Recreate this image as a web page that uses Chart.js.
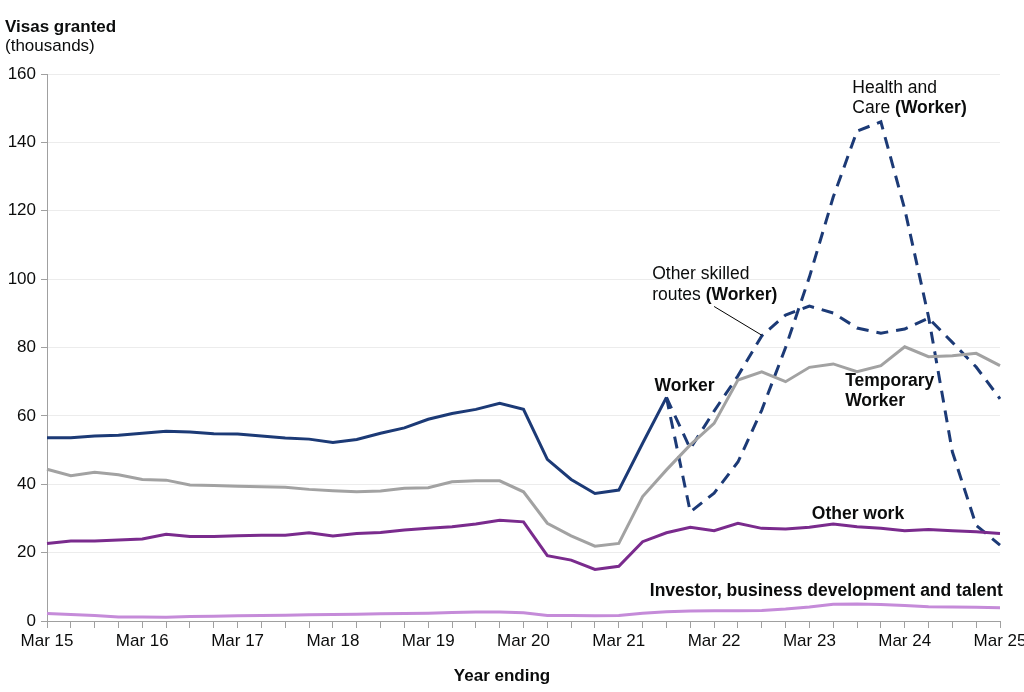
<!DOCTYPE html>
<html>
<head>
<meta charset="utf-8">
<script src="https://cdn.jsdelivr.net/npm/chart.js@4.4.1/dist/chart.umd.min.js"></script>
<style>
  html, body { margin: 0; padding: 0; background: #ffffff; }
</style>
</head>
<body>
<canvas id="myChart" width="1024" height="692"></canvas>
<script>
// year ending, quarterly
const quarters = [
  "Mar 15", "Jun 15", "Sep 15", "Dec 15",
  "Mar 16", "Jun 16", "Sep 16", "Dec 16",
  "Mar 17", "Jun 17", "Sep 17", "Dec 17",
  "Mar 18", "Jun 18", "Sep 18", "Dec 18",
  "Mar 19", "Jun 19", "Sep 19", "Dec 19",
  "Mar 20", "Jun 20", "Sep 20", "Dec 20",
  "Mar 21", "Jun 21", "Sep 21", "Dec 21",
  "Mar 22", "Jun 22", "Sep 22", "Dec 22",
  "Mar 23", "Jun 23", "Sep 23", "Dec 23",
  "Mar 24", "Jun 24", "Sep 24", "Dec 24",
  "Mar 25"
];

// thousands of visas granted
const worker = [
  53.6, 53.6, 54.1, 54.3, 54.9, 55.5, 55.3, 54.8, 54.7, 54.1, 53.5, 53.2,
  52.2, 53.1, 54.9, 56.5, 59.0, 60.7, 61.9, 63.7, 61.9, 47.3, 41.4, 37.3,
  38.3, 52.0, 65.4
];
const healthCare = [
  null, null, null, null, null, null, null, null, null, null, null, null,
  null, null, null, null, null, null, null, null, null, null, null, null,
  null, null, 65.4, 31.9, 37.4, 46.5, 61.7, 80.0, 100.6, 124.0, 143.3, 146.0,
  120.5, 89.0, 49.5, 28.0, 22.2
];
const otherSkilled = [
  null, null, null, null, null, null, null, null, null, null, null, null,
  null, null, null, null, null, null, null, null, null, null, null, null,
  null, null, 65.4, 50.4, 61.4, 71.7, 83.4, 89.5, 92.1, 90.1, 85.7, 84.2,
  85.4, 88.6, 81.5, 74.3, 65.0
];
const temporaryWorker = [
  44.4, 42.5, 43.5, 42.8, 41.4, 41.2, 39.8, 39.6, 39.4, 39.3, 39.1, 38.5,
  38.1, 37.8, 38.0, 38.8, 39.0, 40.7, 41.0, 41.0, 37.8, 28.6, 24.9, 21.9,
  22.7, 36.4, 44.2, 51.5, 57.8, 70.5, 72.9, 70.0, 74.2, 75.2, 72.9, 74.7,
  80.2, 77.3, 77.6, 78.3, 74.7
];
const otherWork = [
  22.7, 23.4, 23.4, 23.7, 24.0, 25.4, 24.7, 24.7, 24.9, 25.1, 25.1, 25.8,
  24.9, 25.6, 25.9, 26.6, 27.1, 27.6, 28.4, 29.5, 29.0, 19.1, 17.8, 15.1,
  16.0, 23.2, 25.8, 27.4, 26.4, 28.6, 27.1, 26.9, 27.4, 28.4, 27.6, 27.1,
  26.4, 26.8, 26.4, 26.1, 25.6
];
const investor = [
  2.2, 1.9, 1.6, 1.2, 1.2, 1.1, 1.3, 1.4, 1.5, 1.6, 1.7, 1.8,
  1.9, 2.0, 2.1, 2.2, 2.3, 2.5, 2.6, 2.6, 2.4, 1.6, 1.6, 1.5,
  1.6, 2.3, 2.7, 2.9, 3.0, 3.0, 3.1, 3.5, 4.1, 4.9, 5.0, 4.8,
  4.5, 4.2, 4.1, 4.0, 3.9
];

const yTicks = [0, 20, 40, 60, 80, 100, 120, 140, 160];

const navy = "#1c3a76";
const FONT = "'Liberation Sans', Arial, sans-serif";
const FS = 17;
const LFS = 17.5; // line labels

// line labels, anchored in data space: [quarter index, value, pieces]
const lineLabels = [
  { i: 33.8, v: 155.9, parts: [["Health and", false]] },
  { i: 33.8, v: 150.0, parts: [["Care ", false], ["(Worker)", true]] },
  { i: 25.4, v: 101.4, parts: [["Other skilled", false]] },
  { i: 25.4, v: 95.2, parts: [["routes ", false], ["(Worker)", true]] },
  { i: 25.5, v: 68.7, parts: [["Worker", true]] },
  { i: 33.5, v: 70.2, parts: [["Temporary", true]] },
  { i: 33.5, v: 64.3, parts: [["Worker", true]] },
  { i: 32.1, v: 31.3, parts: [["Other work", true]] },
  { i: 25.3, v: 8.8, parts: [["Investor, business development and talent", true]] }
];

const labelPlugin = {
  id: "labels",
  afterDraw(chart) {
    const ctx = chart.ctx;
    const x = chart.scales.x, y = chart.scales.y;
    ctx.save();
    ctx.fillStyle = "#0b0c0c";
    ctx.textBaseline = "middle";
    ctx.textAlign = "left";

    // axis headings
    ctx.font = "bold " + FS + "px " + FONT;
    ctx.fillText("Visas granted", 5, 27);
    ctx.font = FS + "px " + FONT;
    ctx.fillText("(thousands)", 5, 46);
    ctx.font = "bold " + FS + "px " + FONT;
    ctx.textAlign = "center";
    ctx.fillText("Year ending", 502, 676);
    ctx.textAlign = "left";

    lineLabels.forEach(l => {
      let px = x.getPixelForValue(l.i);
      const py = y.getPixelForValue(l.v);
      l.parts.forEach(p => {
        ctx.font = (p[1] ? "bold " : "") + LFS + "px " + FONT;
        ctx.fillText(p[0], px, py);
        px += ctx.measureText(p[0]).width;
      });
    });

    // leader line for other skilled routes
    ctx.strokeStyle = "#000000";
    ctx.lineWidth = 1;
    ctx.beginPath();
    ctx.moveTo(x.getPixelForValue(28.0), y.getPixelForValue(92.0));
    ctx.lineTo(x.getPixelForValue(30.0), y.getPixelForValue(83.6));
    ctx.stroke();
    ctx.restore();
  }
};

const solid = (data, color) => ({
  data: data,
  borderColor: color,
  backgroundColor: color,
  borderWidth: 3,
  pointRadius: 0,
  tension: 0,
  fill: false
});
const dashed = (data) => ({
  data: data,
  borderColor: navy,
  backgroundColor: navy,
  borderWidth: 3,
  borderDash: [12, 8],
  pointRadius: 0,
  tension: 0,
  fill: false,
  spanGaps: false
});

new Chart(document.getElementById("myChart").getContext("2d"), {
  type: "line",
  data: {
    labels: quarters,
    datasets: [
      solid(investor, "#c58bd9"),
      solid(otherWork, "#7a2b8d"),
      solid(temporaryWorker, "#a2a2a2"),
      dashed(otherSkilled),
      dashed(healthCare),
      solid(worker, navy)
    ]
  },
  options: {
    responsive: false,
    animation: false,
    layout: { padding: { top: 74, left: 0, right: 24, bottom: 0 } },
    plugins: { legend: { display: false }, tooltip: { enabled: false } },
    scales: {
      x: {
        grid: { drawOnChartArea: false, tickLength: 7, tickColor: "#a0a0a0" },
        border: { color: "#a0a0a0", width: 1 },
        ticks: {
          autoSkip: false,
          maxRotation: 0,
          padding: 3,
          color: "#0b0c0c",
          font: { family: FONT, size: FS },
          callback: (v, i) => (i % 4 === 0 ? quarters[i] : "")
        },
        afterFit: s => { s.height = 71; s.paddingLeft = 0; s.paddingRight = 24; }
      },
      y: {
        min: 0,
        max: 160,
        afterBuildTicks: s => { s.ticks = yTicks.map(v => ({ value: v })); },
        grid: { color: "#ececec", tickLength: 6, tickColor: "#a0a0a0" },
        border: { color: "#a0a0a0", width: 1 },
        ticks: {
          padding: 5,
          color: "#0b0c0c",
          font: { family: FONT, size: FS }
        },
        afterFit: s => { s.width = 47; }
      }
    }
  },
  plugins: [labelPlugin]
});
</script>
</body>
</html>
